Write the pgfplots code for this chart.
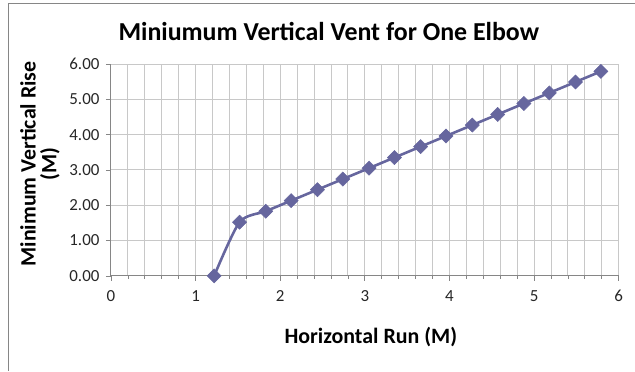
\documentclass[border=0pt]{standalone}
\usepackage{fontspec}
\setmainfont{Carlito}
\usepackage{pgfplots}
\pgfplotsset{compat=1.18}
\definecolor{ser}{HTML}{66669E}
\definecolor{gridc}{HTML}{C8C8C8}
\definecolor{axc}{HTML}{868686}
\begin{document}
\begin{tikzpicture}[x=1bp,y=1bp]
\path (0,0) rectangle (635,371);
\draw[axc, line width=0.7bp] (8,0) -- (8,368) -- (635,368);
\begin{axis}[at={(111bp,95bp)}, anchor=south west, scale only axis,
  width=508bp, height=212bp,
  xmin=0, xmax=6, ymin=0, ymax=6,
  xtick={0,...,6}, minor x tick num=4, ytick={0,...,6},
  axis x line*=bottom, axis y line*=left,
  axis line style={axc, line width=0.9bp, -},
  tick align=outside, major tick length=5bp, minor tick length=3bp,
  tick style={axc, line width=0.7bp},
  grid=both,
  major grid style={gridc, line width=0.9bp},
  minor x grid style={gridc, line width=0.9bp},
  minor y grid style={draw=none},
  /pgf/number format/assume math mode=true,
  yticklabel={\pgfmathprintnumber[fixed,fixed zerofill,precision=2]{\tick}},
  xticklabel={\pgfmathprintnumber[fixed,precision=0]{\tick}},
  ticklabel style={font=\fontsize{17}{17}\selectfont, text=black!85},
  xticklabel style={yshift=-6bp},
  yticklabel style={xshift=-3bp},
  clip=false,
]
\addplot[ser, line width=2.6bp, smooth, tension=0.45, mark=square*, mark size=5bp, mark options={fill=ser, draw=ser, rotate=45, line width=0.5bp}]
 coordinates {
 (1.22,0) (1.52,1.52) (1.83,1.83) (2.13,2.13) (2.44,2.44) (2.74,2.74)
 (3.05,3.05) (3.35,3.35) (3.66,3.66) (3.96,3.96) (4.27,4.27) (4.57,4.57)
 (4.88,4.88) (5.18,5.18) (5.49,5.49) (5.79,5.79)
 };
\end{axis}
\node[font=\bfseries\fontsize{26}{26}\selectfont] at (329,339) {Miniumum Vertical Vent for One Elbow};
\node[font=\bfseries\fontsize{22}{22}\selectfont] at (371,34) {Horizontal Run (M)};
\node[font=\bfseries\fontsize{22}{21}\selectfont, rotate=90, align=center] at (40,207) {Minimum Vertical Rise\\(M)};
\end{tikzpicture}
\end{document}
